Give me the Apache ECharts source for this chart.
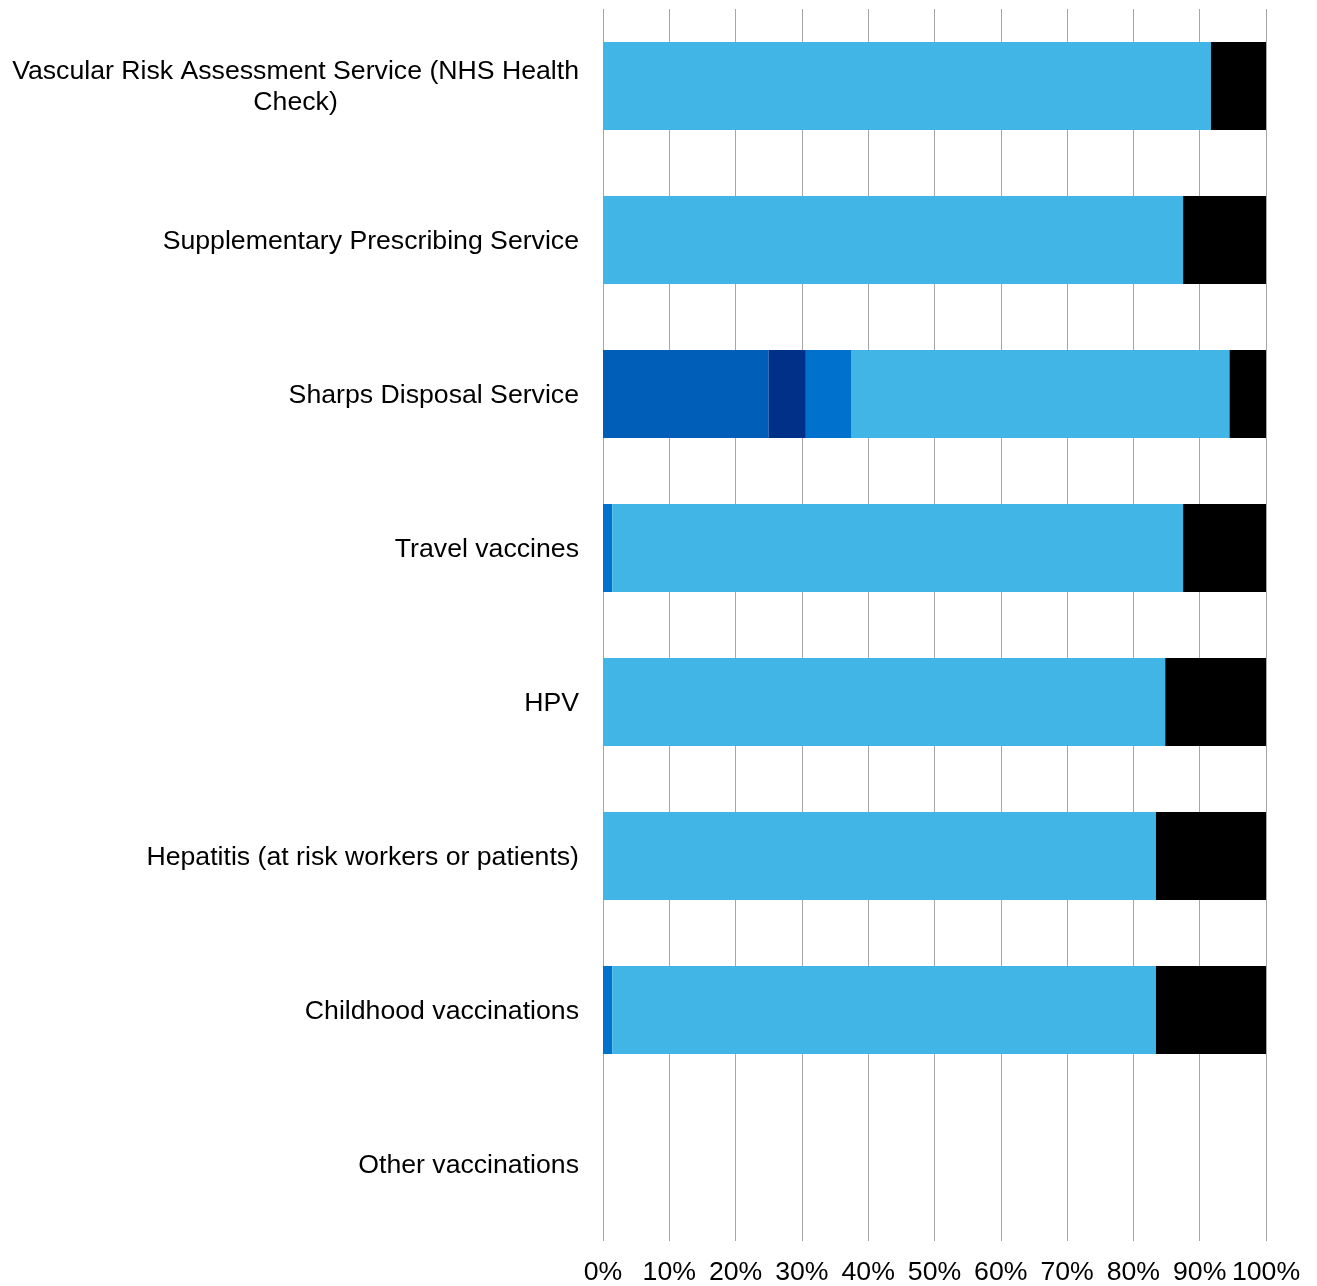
<!DOCTYPE html>
<html>
<head>
<meta charset="utf-8">
<script src="https://cdn.jsdelivr.net/npm/echarts@6/dist/echarts.min.js"></script>
<style>
html,body{margin:0;padding:0;background:#fff;}
#chart{width:1317px;height:1286px;}
</style>
</head>
<body>
<div id="chart"></div>
<script>
const categories = [
  'Vascular Risk Assessment Service (NHS Health Check)',
  'Supplementary Prescribing Service',
  'Sharps Disposal Service',
  'Travel vaccines',
  'HPV',
  'Hepatitis (at risk workers or patients)',
  'Childhood vaccinations',
  'Other vaccinations'
];
const xTicks = [0, 10, 20, 30, 40, 50, 60, 70, 80, 90, 100];
const seriesNames = ['Segment 1', 'Segment 2', 'Segment 3', 'Segment 4', 'Segment 5'];
const seg1 = [null, null, 25.0, null, null, null, null, null];
const seg2 = [null, null, 5.6, null, null, null, null, null];
const seg3 = [null, null, 6.9, 1.4, null, null, 1.4, null];
const seg4 = [91.7, 87.5, 57.0, 86.1, 84.8, 83.4, 82.0, null];
const seg5 = [8.3, 12.5, 5.5, 12.5, 15.2, 16.6, 16.6, null];
const colors = ['#005EB8', '#003087', '#0072CE', '#41B6E6', '#000000'];

const FONT = 'Liberation Sans, Arial, sans-serif';
const allSeries = [seg1, seg2, seg3, seg4, seg5];
const chart = echarts.init(document.getElementById('chart'));
chart.setOption({
  animation: false,
  backgroundColor: '#ffffff',
  grid: { left: 603, right: 51, top: 9, bottom: 44, containLabel: false },
  xAxis: {
    type: 'value', min: xTicks[0], max: xTicks[xTicks.length - 1], interval: 10,
    axisLine: { show: false }, axisTick: { show: false },
    splitLine: { show: true, lineStyle: { color: '#a6a6a6', width: 1 } },
    axisLabel: {
      margin: 18, color: '#000', fontSize: 26.67, fontFamily: FONT,
      formatter: v => v + '%'
    }
  },
  yAxis: {
    type: 'category', data: categories, inverse: true,
    axisLine: { show: false }, axisTick: { show: false },
    axisLabel: {
      margin: 24, color: '#000', fontSize: 26.67, fontFamily: FONT,
      lineHeight: 31, padding: [3, 0, 0, 0],
      formatter: function (v) {
        if (v.indexOf('(NHS Health Check)') >= 0) {
          return '{c|Vascular Risk Assessment Service (NHS Health}\n{c|Check)}';
        }
        return '{c|' + v + '}';
      },
      rich: { c: { align: 'center', fontSize: 26.67, lineHeight: 31, color: '#000', fontFamily: FONT } }
    }
  },
  series: allSeries.map((d, i) => ({
    name: seriesNames[i], type: 'bar', stack: 'total', data: d,
    barWidth: '57%', itemStyle: { color: colors[i] }
  }))
});
</script>
</body>
</html>
